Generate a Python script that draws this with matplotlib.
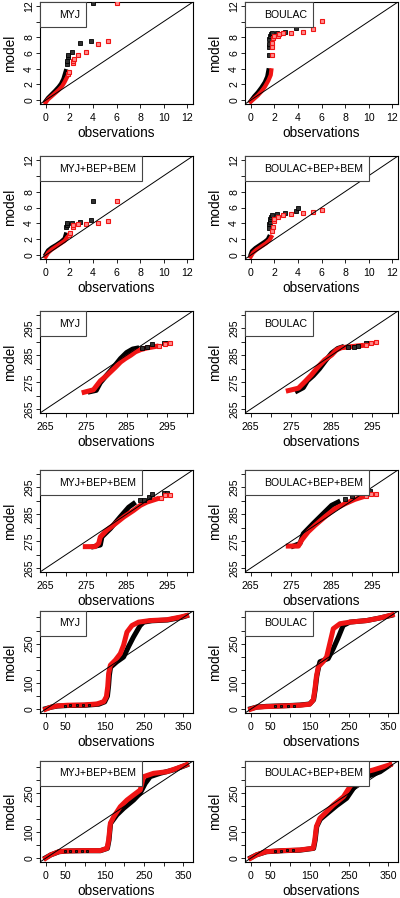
import matplotlib
matplotlib.use("Agg")
import matplotlib.pyplot as plt
from matplotlib.patches import Rectangle

plt.rcParams['font.family'] = ['Liberation Sans', 'DejaVu Sans']

# ---------------- wind speed (QQ: observations vs model) ----------------
WS_MYJ_BK_LINE = [(0.0, -0.1), (0.2, 0.3), (0.5, 0.75), (0.8, 1.2), (1.1, 1.7), (1.3, 2.1), (1.5, 2.7), (1.6, 3.2), (1.7, 3.7)]
WS_MYJ_BK_PTS = [(1.8, 4.6), (1.8, 5.0), (1.85, 5.5), (1.85, 5.8), (2.2, 6.1), (2.9, 7.3), (3.8, 7.5), (4.0, 12.3)]
WS_MYJ_RD_LINE = [(0.0, -0.3), (0.2, 0.1), (0.5, 0.5), (0.8, 0.9), (1.1, 1.3), (1.4, 1.8), (1.6, 2.3), (1.8, 2.9)]
WS_MYJ_RD_PTS = [(1.9, 3.3), (2.0, 3.6), (2.3, 4.7), (2.35, 5.0), (2.4, 5.3), (2.7, 5.7), (3.4, 6.1), (4.4, 7.2), (5.3, 7.5), (6.0, 12.3)]

WS_BOU_BK_LINE = [(0.0, -0.1), (0.3, 0.5), (0.6, 1.0), (0.9, 1.6), (1.2, 2.3), (1.4, 3.0), (1.5, 3.8)]
WS_BOU_BK_PTS = [(1.52, 5.8), (1.52, 6.8), (1.52, 7.2), (1.55, 7.8), (1.6, 8.1), (1.7, 8.4), (1.8, 8.6), (2.26, 8.6), (2.9, 8.7), (3.86, 9.2), (3.9, 9.8), (3.92, 10.2)]
WS_BOU_RD_LINE = [(0.0, -0.2), (0.3, 0.2), (0.6, 0.6), (0.9, 1.1), (1.2, 1.7), (1.5, 2.5), (1.7, 3.2), (1.75, 3.8)]
WS_BOU_RD_PTS = [(1.77, 5.8), (1.8, 6.8), (1.8, 7.3), (1.9, 7.9), (2.0, 8.1), (2.3, 8.2), (2.4, 8.4), (2.7, 8.6), (3.4, 8.6), (4.4, 8.7), (5.3, 9.1), (6.0, 10.1)]

WS_MYJB_BK_LINE = [(0.0, 0.1), (0.2, 0.6), (0.5, 0.95), (0.9, 1.3), (1.3, 1.7), (1.6, 2.1), (1.7, 2.6)]
WS_MYJB_BK_PTS = [(1.75, 3.5), (1.8, 3.8), (1.8, 4.0), (2.2, 4.0), (2.9, 4.2), (3.8, 4.4), (4.0, 6.85)]
WS_MYJB_RD_LINE = [(0.0, -0.2), (0.2, 0.3), (0.5, 0.7), (0.9, 1.1), (1.3, 1.5), (1.6, 1.8), (1.8, 2.2)]
WS_MYJB_RD_PTS = [(2.0, 2.5), (2.05, 2.75), (2.3, 3.5), (2.35, 3.8), (2.7, 3.95), (3.4, 3.95), (4.4, 4.05), (5.3, 4.3), (6.0, 6.8)]

WS_BOUB_BK_LINE = [(0.0, 0.1), (0.1, 0.5), (0.4, 0.9), (0.8, 1.3), (1.2, 1.7), (1.45, 2.0), (1.55, 2.3)]
WS_BOUB_BK_PTS = [(1.55, 3.4), (1.58, 3.9), (1.6, 4.2), (1.62, 4.5), (1.7, 4.8), (1.8, 5.1), (2.26, 5.2), (2.9, 5.3), (3.83, 5.5), (3.97, 5.9)]
WS_BOUB_RD_LINE = [(0.0, -0.2), (0.2, 0.3), (0.5, 0.7), (0.9, 1.1), (1.3, 1.5), (1.6, 1.9), (1.75, 2.3)]
WS_BOUB_RD_PTS = [(1.8, 3.0), (1.85, 3.5), (2.0, 4.3), (2.0, 4.6), (2.3, 4.8), (2.7, 5.0), (3.4, 5.15), (4.4, 5.3), (5.3, 5.4), (6.0, 5.7)]

# ---------------- temperature ----------------
T_MYJ_BK_LINE = [(276.0, 271.5), (277.5, 272.0), (278.5, 274.8), (280.0, 277.5), (282.0, 281.0), (283.5, 283.8), (285.0, 286.0), (286.5, 287.3), (287.5, 287.6)]
T_MYJ_BK_PTS = [(288.8, 287.8), (290.0, 288.2), (291.3, 289.3), (294.2, 289.4), (295.0, 289.6)]
T_MYJ_RD_LINE = [(274.5, 271.3), (276.8, 272.2), (278.5, 275.5), (280.1, 277.5), (282.2, 280.5), (283.5, 282.5), (284.7, 283.8), (286.0, 285.0), (287.2, 286.3), (288.5, 287.1), (290.0, 287.7), (292.3, 288.3)]
T_MYJ_RD_PTS = [(293.0, 288.5), (294.6, 289.2), (295.8, 289.4)]

T_BOU_BK_LINE = [(276.5, 271.8), (278.0, 273.0), (279.0, 275.5), (280.5, 277.5), (282.0, 280.0), (283.5, 283.0), (285.0, 285.8), (286.5, 287.5), (287.5, 288.0)]
T_BOU_BK_PTS = [(289.0, 288.0), (290.5, 288.1), (291.5, 288.6), (293.6, 289.5), (294.5, 289.7)]
T_BOU_RD_LINE = [(274.3, 271.9), (276.8, 272.8), (278.4, 275.2), (280.0, 277.7), (281.7, 280.8), (283.3, 283.3), (285.0, 285.1), (286.2, 287.0), (287.4, 287.8), (289.9, 288.2), (292.4, 288.6)]
T_BOU_RD_PTS = [(293.5, 288.9), (294.8, 289.4), (296.0, 289.8)]

T_MYJB_BK_LINE = [(276.8, 273.0), (278.5, 273.6), (278.9, 276.6), (281.0, 279.7), (283.4, 284.0), (285.5, 287.6), (286.7, 288.9)]
T_MYJB_BK_PTS = [(288.4, 290.1), (289.2, 290.4), (290.5, 291.3), (291.3, 292.5), (294.2, 292.8), (295.0, 292.8)]
T_MYJB_RD_LINE = [(274.8, 273.0), (277.2, 273.0), (278.1, 274.2), (278.5, 276.6), (280.1, 279.1), (282.2, 281.5), (284.3, 284.0), (286.7, 286.4), (288.4, 288.3), (290.0, 289.5), (292.5, 290.7)]
T_MYJB_RD_PTS = [(293.5, 291.2), (294.6, 292.3), (295.8, 292.3)]

T_BOUB_BK_LINE = [(275.5, 273.2), (277.2, 274.2), (278.0, 277.8), (280.4, 281.5), (282.9, 285.2), (285.0, 288.3), (286.6, 289.5)]
T_BOUB_BK_PTS = [(288.3, 290.7), (290.0, 291.9), (290.7, 293.1), (293.6, 293.1), (294.4, 293.8)]
T_BOUB_RD_LINE = [(274.3, 273.2), (276.8, 273.2), (277.6, 275.4), (279.2, 278.5), (280.9, 280.9), (283.3, 284.0), (285.8, 287.0), (288.3, 288.9), (290.7, 290.5), (292.4, 291.3)]
T_BOUB_RD_PTS = [(293.5, 291.8), (294.8, 292.5), (296.0, 292.5)]

# ---------------- wind direction ----------------
WD_MYJ_BK_LINE = [(0, 2), (15, 8), (30, 12), (55, 14), (100, 15), (135, 19), (150, 28), (157, 50), (160, 90), (162, 130), (165, 160), (181, 181), (198, 199), (210, 237), (223, 275), (240, 319), (249, 332), (270, 337), (310, 340), (345, 350), (358, 356)]
WD_MYJ_BK_PTS = [(48, 14), (63, 15), (80, 15), (95, 15), (110, 16)]
WD_MYJ_RD_LINE = [(0, 0), (12.6, 7.6), (29.5, 12.6), (54.8, 15.2), (97, 16.4), (130.7, 20.2), (147.5, 29), (154.3, 48), (157.7, 86), (160, 136), (164.4, 168), (177, 187), (189.7, 212), (198, 244), (206.6, 294), (219.2, 319), (236, 332), (265.6, 338), (307.8, 341), (341.5, 351), (358, 357)]
WD_MYJ_RD_PTS = []

WD_BOU_BK_LINE = [(0, 2), (15, 8), (40, 11), (82, 13), (125, 16), (150, 20), (160, 36), (164, 75), (168, 125), (173, 163), (176, 181), (197, 193), (210, 231), (223, 275), (235, 319), (252, 332), (295, 338), (329, 348), (358, 358)]
WD_BOU_BK_PTS = [(62, 12), (78, 12), (95, 13), (110, 14)]
WD_BOU_RD_LINE = [(0, 0), (14.4, 7.6), (40, 10), (82, 12.6), (125, 15.2), (150, 19), (159, 35), (163, 73), (167, 124), (172, 162), (184, 181), (193, 199.5), (201, 250), (210, 307), (227, 326), (252, 332), (295, 338), (329, 348), (360, 360)]
WD_BOU_RD_PTS = []

WD_MYJB_BK_LINE = [(0, 2), (13, 13), (34, 25), (55, 28), (97, 29), (139, 29), (157, 38), (161, 70), (165, 134), (181, 167), (198, 192), (223.4, 224), (240, 250), (253, 288), (265.6, 314), (291, 327), (324.6, 340), (358, 359)]
WD_MYJB_BK_PTS = [(50, 28), (62, 29), (78, 29), (92, 29), (105, 29)]
WD_MYJB_RD_LINE = [(0, 0), (12.6, 12.8), (33.7, 25.6), (54.8, 28.2), (97, 29.5), (139, 29.5), (156, 38.5), (160, 70.5), (164.4, 134.6), (173, 160), (189.7, 198.7), (206.6, 224), (223.4, 243.6), (240.3, 262.8), (248.7, 314), (274, 327), (307.8, 333), (333, 346), (358, 360)]
WD_MYJB_RD_PTS = []

WD_BOUB_BK_LINE = [(0, 2), (15, 13), (40, 25), (82, 29), (125, 31), (160, 38), (164, 70), (168, 122), (177, 150), (193, 170.5), (218.5, 202.6), (244, 231), (261, 269), (274, 295), (295, 314), (329, 333), (354, 359)]
WD_BOUB_BK_PTS = [(62, 29), (78, 29), (92, 30), (108, 30)]
WD_BOUB_RD_LINE = [(0, 0), (14.4, 12.8), (40, 25.6), (82, 29.5), (125, 32), (159, 38.5), (163, 70.5), (167, 122), (176, 154), (193, 179.5), (210, 205), (235.8, 237), (252.3, 275.6), (265, 301), (277.8, 327), (311.8, 340), (354, 360)]
WD_BOUB_RD_PTS = []

# ---------------- axes tick labels ----------------
WS_TICKS = [0, 2, 4, 6, 8, 10, 12]
WS_XLABELS = ['0', '2', '4', '6', '8', '10', '12']
WS_YLABELS = ['0', '2', '4', '6', '8', '', '12']
T_TICKS = [265, 270, 275, 280, 285, 290, 295, 300]
T_LABELS = ['265', '', '275', '', '285', '', '295', '']
WD_TICKS = [0, 50, 100, 150, 200, 250, 300, 350]
WD_XLABELS = ['0', '50', '', '150', '', '250', '', '350']
WD_YLABELS = ['0', '', '100', '', '', '250', '', '']

LABELS = ['MYJ', 'BOULAC', 'MYJ+BEP+BEM', 'BOULAC+BEP+BEM']

KINDS = {
    'ws': dict(lim=(-0.48, 12.48), ticks=WS_TICKS, xl=WS_XLABELS, yl=WS_YLABELS, lw=3.0, sparse_bk=2.6),
    't': dict(lim=(263.6, 301.4), ticks=T_TICKS, xl=T_LABELS, yl=T_LABELS, lw=3.6, sparse_bk=2.6),
    'wd': dict(lim=(-14.4, 374.4), ticks=WD_TICKS, xl=WD_XLABELS, yl=WD_YLABELS, lw=3.6, sparse_bk=1.6),
}

PANELS = [
    (0, 0, 'ws', LABELS[0], WS_MYJ_BK_LINE, WS_MYJ_BK_PTS, WS_MYJ_RD_LINE, WS_MYJ_RD_PTS),
    (0, 1, 'ws', LABELS[1], WS_BOU_BK_LINE, WS_BOU_BK_PTS, WS_BOU_RD_LINE, WS_BOU_RD_PTS),
    (1, 0, 'ws', LABELS[2], WS_MYJB_BK_LINE, WS_MYJB_BK_PTS, WS_MYJB_RD_LINE, WS_MYJB_RD_PTS),
    (1, 1, 'ws', LABELS[3], WS_BOUB_BK_LINE, WS_BOUB_BK_PTS, WS_BOUB_RD_LINE, WS_BOUB_RD_PTS),
    (2, 0, 't', LABELS[0], T_MYJ_BK_LINE, T_MYJ_BK_PTS, T_MYJ_RD_LINE, T_MYJ_RD_PTS),
    (2, 1, 't', LABELS[1], T_BOU_BK_LINE, T_BOU_BK_PTS, T_BOU_RD_LINE, T_BOU_RD_PTS),
    (3, 0, 't', LABELS[2], T_MYJB_BK_LINE, T_MYJB_BK_PTS, T_MYJB_RD_LINE, T_MYJB_RD_PTS),
    (3, 1, 't', LABELS[3], T_BOUB_BK_LINE, T_BOUB_BK_PTS, T_BOUB_RD_LINE, T_BOUB_RD_PTS),
    (4, 0, 'wd', LABELS[0], WD_MYJ_BK_LINE, WD_MYJ_BK_PTS, WD_MYJ_RD_LINE, WD_MYJ_RD_PTS),
    (4, 1, 'wd', LABELS[1], WD_BOU_BK_LINE, WD_BOU_BK_PTS, WD_BOU_RD_LINE, WD_BOU_RD_PTS),
    (5, 0, 'wd', LABELS[2], WD_MYJB_BK_LINE, WD_MYJB_BK_PTS, WD_MYJB_RD_LINE, WD_MYJB_RD_PTS),
    (5, 1, 'wd', LABELS[3], WD_BOUB_BK_LINE, WD_BOUB_BK_PTS, WD_BOUB_RD_LINE, WD_BOUB_RD_PTS),
]

# layout in pixels
W, H = 400, 898
ROW_TOP = [2, 156, 311, 470, 611, 761]
ROW_BOT = [104, 259, 413, 572, 713, 862]
COL_L = [40, 245]
COL_R = [193, 398]

RED = '#f01414'
PINK = '#ff8c8c'

fig = plt.figure(figsize=(W / 100, H / 100), dpi=100)
renderer = fig.canvas.get_renderer()


def xy(pts):
    return [p[0] for p in pts], [p[1] for p in pts]


for row, col, kind, label, bk_line, bk_pts, rd_line, rd_pts in PANELS:
    k = KINDS[kind]
    l, r = COL_L[col], COL_R[col]
    t, b = ROW_TOP[row], ROW_BOT[row]
    aw, ah = r - l, b - t
    ax = fig.add_axes([l / W, 1 - b / H, aw / W, ah / H])

    x, y = xy(bk_line)
    ax.plot(x, y, color='k', lw=k['lw'], solid_capstyle='projecting', zorder=2)
    x, y = xy(rd_line)
    ax.plot(x, y, color=RED, lw=k['lw'], solid_capstyle='projecting', zorder=3)
    if bk_pts:
        x, y = xy(bk_pts)
        ax.plot(x, y, 's', ms=k['sparse_bk'], mfc='#303030', mec='k', mew=0.6, zorder=4)
    if rd_pts:
        x, y = xy(rd_pts)
        ax.plot(x, y, 's', ms=2.8, mfc=PINK, mec=RED, mew=0.8, zorder=4)

    ax.axline((k['lim'][0], k['lim'][0]), slope=1, color='k', lw=0.7, zorder=5)

    ax.set_xlim(k['lim'])
    ax.set_ylim(k['lim'])
    ax.set_xticks(k['ticks'])
    ax.set_xticklabels(k['xl'], fontsize=7.6)
    ax.set_yticks(k['ticks'])
    ax.set_yticklabels(k['yl'], fontsize=7.6, rotation=90, va='center')
    ax.tick_params(axis='x', length=3.2, width=0.6, pad=3.2)
    ax.tick_params(axis='y', length=3.2, width=0.6, pad=1.0)
    for s in ax.spines.values():
        s.set_linewidth(0.8)
    ax.set_xlabel('observations', fontsize=9.8, labelpad=2)
    ax.set_ylabel('model', fontsize=9.8, labelpad=5)

    # legend-like box in the top left corner (R legend style)
    txt = ax.text(19 / aw, 1 - 12.5 / ah, label, transform=ax.transAxes,
                  fontsize=7.6, ha='left', va='center', zorder=7)
    tw = txt.get_window_extent(renderer).width
    bh = 25
    ax.add_patch(Rectangle((0, 1 - bh / ah), (19 + tw + 6) / aw, bh / ah,
                           transform=ax.transAxes, facecolor='white',
                           edgecolor='#444444', lw=0.8, zorder=6, clip_on=False))

fig.savefig('out.png', dpi=100)
